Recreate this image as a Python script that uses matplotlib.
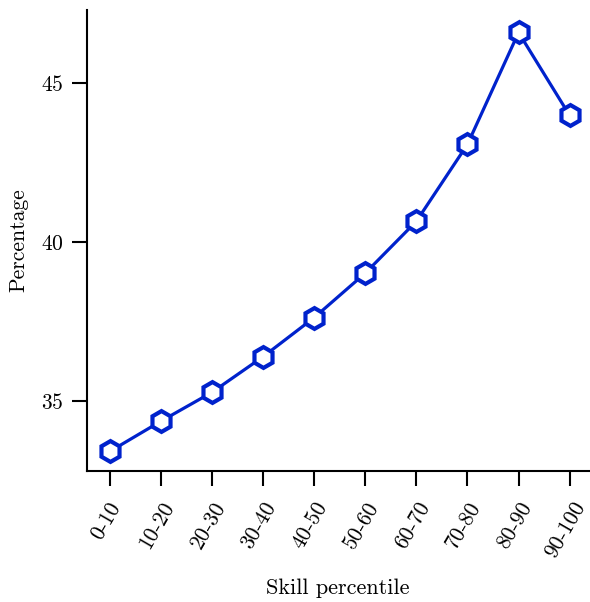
import matplotlib
matplotlib.use("Agg")
import matplotlib.pyplot as plt
from matplotlib.transforms import ScaledTranslation

plt.rcParams['font.family'] = 'serif'
plt.rcParams['font.serif'] = ['cmr10']
plt.rcParams['axes.formatter.use_mathtext'] = True
plt.rcParams['mathtext.fontset'] = 'cm'

categories = ['0-10', '10-20', '20-30', '30-40', '40-50',
              '50-60', '60-70', '70-80', '80-90', '90-100']
percentage = [33.42, 34.37, 35.28, 36.4, 37.63, 39.03, 40.66, 43.08, 46.6, 43.99]

fig = plt.figure(figsize=(5.9, 6.02), dpi=100)
ax = fig.add_axes([0.1475, 0.2176, 0.85, 0.7654])

ax.plot(range(len(categories)), percentage, color='#0022cc', lw=2.3,
        marker='h', ms=15, mfc='white', mec='#0022cc', mew=3)

ax.set_xticks(range(len(categories)))
ax.set_xticklabels(categories, rotation=60)
ax.set_yticks([35, 40, 45])
ax.set_xlim(-0.45, 9.37)
ax.set_ylim(32.8, 47.3)

for side in ['top', 'right']:
    ax.spines[side].set_visible(False)
for side in ['left', 'bottom']:
    ax.spines[side].set_linewidth(1.5)
ax.tick_params(length=11, width=1.5, labelsize=15.5, pad=6)
ax.tick_params(axis='x', pad=9)

# nudge rotated labels a bit left so the last one fits
shift = ScaledTranslation(-4 / 100, 0, fig.dpi_scale_trans)
for lab in ax.get_xticklabels():
    lab.set_transform(lab.get_transform() + shift)

ax.set_xlabel('Skill percentile', fontsize=16, labelpad=12)
ax.set_ylabel('Percentage', fontsize=15.5, labelpad=9)

fig.savefig('out.png', dpi=100)
